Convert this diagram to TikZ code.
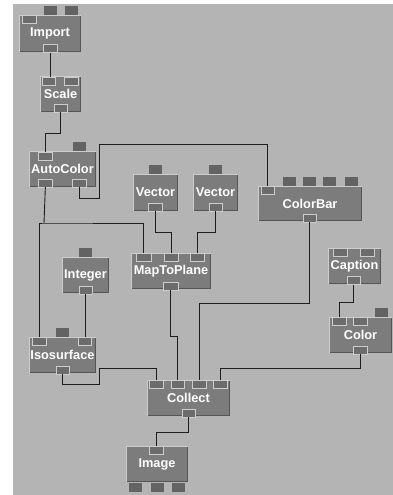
\documentclass[tikz,border=0pt]{standalone}
\usepackage{fontspec}
\setmainfont{Liberation Sans}
\usepackage{xcolor}
\definecolor{canvas}{RGB}{180,180,180}
\definecolor{modgray}{RGB}{124,124,124}
\definecolor{portgray}{RGB}{108,108,108}
\definecolor{hilite}{RGB}{205,205,205}
\definecolor{edgedark}{RGB}{85,85,85}
\definecolor{wiregray}{RGB}{30,30,30}
\usepackage{tikz}
\usetikzlibrary{calc,positioning}

\tikzset{
  module/.style={rectangle, fill=modgray, inner sep=0pt, text=white,
    font=\fontsize{12.8}{14}\selectfont\bfseries},
  inport/.style={rectangle, fill=portgray, draw=hilite, line width=0.7pt,
    inner sep=0pt, anchor=north west, minimum width=14pt, minimum height=8pt},
  tab/.style={rectangle, fill=portgray!92!black, inner sep=0pt, anchor=north west,
    minimum width=13pt, minimum height=9pt},
  wire/.style={wiregray, line width=0.9pt}
}

\begin{document}
\begin{tikzpicture}[x=1pt, y=-1pt]
    % Canvas
    \useasboundingbox (0,0) rectangle (393,495);
    \fill[canvas] (13,4) rectangle (393,495);

    % Modules
    \node[module, minimum width=62pt, minimum height=37pt] (import) at (50,33.5) {Import};
    \node[module, minimum width=41pt, minimum height=36pt] (scale) at (60.5,94) {Scale};
    \node[module, minimum width=67pt, minimum height=36pt] (autocolor) at (62.5,169) {AutoColor};
    \node[module, minimum width=45pt, minimum height=37pt] (vector1) at (155.5,192.5) {Vector};
    \node[module, minimum width=45pt, minimum height=37pt] (vector2) at (215.5,192.5) {Vector};
    \node[module, minimum width=104pt, minimum height=35pt] (colorbar) at (310,203.5) {ColorBar};
    \node[module, minimum width=80pt, minimum height=36pt] (maptoplane) at (171,271) {MapToPlane};
    \node[module, minimum width=47pt, minimum height=36pt] (integer) at (85.5,275) {Integer};
    \node[module, minimum width=53pt, minimum height=36pt] (caption) at (354.5,266) {Caption};
    \node[module, minimum width=63pt, minimum height=36pt] (color) at (360.5,335) {Color};
    \node[module, minimum width=67pt, minimum height=36pt] (isosurface) at (62.5,355) {Isosurface};
    \node[module, minimum width=83pt, minimum height=36pt] (collect) at (188.5,398) {Collect};
    \node[module, minimum width=62pt, minimum height=36pt] (image) at (157,464) {Image};

    % Bevel edges of the modules
    \foreach \m in {import,scale,autocolor,vector1,vector2,colorbar,maptoplane,integer,caption,color,isosurface,collect,image} {
        \draw[edgedark, line width=1pt] ([shift={(0.5,-0.5)}]\m.south west) -| ([shift={(-0.5,0.5)}]\m.north east);
        \draw[hilite, line width=1pt] ([shift={(0.5,-0.5)}]\m.south west) |- ([shift={(-0.5,0.5)}]\m.north east);
    }

    % Unused tabs
    \node[tab] (import-t1) at (44,6) {};
    \node[tab] (import-t2) at (65,6) {};
    \node[tab] (autocolor-t) at (73,142) {};
    \node[tab] (vector1-t) at (149,165) {};
    \node[tab] (vector2-t) at (209,165) {};
    \foreach \x [count=\i] in {283,303,323,345}
        \node[tab] (colorbar-t\i) at (\x,177) {};
    \node[tab] (integer-t) at (79,248) {};
    \node[tab] (color-t) at (375,308) {};
    \node[tab] (isosurface-t) at (56,328) {};
    \foreach \x [count=\i] in {129,151,172}
        \node[tab] (image-t\i) at (\x,482.5) {};

    % Ports
    \node[inport] (import-i) at (22,15.5) {};
    \node[inport] (import-o) at (43,44) {};
    \node[inport, minimum width=13pt] (scale-i1) at (41.5,76.5) {};
    \node[inport] (scale-i2) at (64,76.5) {};
    \node[inport, minimum width=13pt] (scale-o) at (54,103.5) {};
    \node[inport] (autocolor-i) at (38,151.5) {};
    \node[inport] (autocolor-o1) at (38,178.5) {};
    \node[inport] (autocolor-o2) at (72,178.5) {};
    \node[inport] (vector1-o) at (148,202.5) {};
    \node[inport, minimum width=13pt] (vector2-o) at (209,202.5) {};
    \node[inport, minimum width=13pt] (colorbar-i) at (261,186) {};
    \node[inport, minimum width=13pt] (colorbar-o) at (303,213.5) {};
    \node[inport, minimum width=15pt] (maptoplane-i1) at (136,253) {};
    \node[inport] (maptoplane-i2) at (164,253) {};
    \node[inport] (maptoplane-i3) at (190,253) {};
    \node[inport, minimum width=15pt] (maptoplane-o) at (163,281.5) {};
    \node[inport, minimum width=13pt] (integer-o) at (79,285.5) {};
    \node[inport] (caption-i1) at (333,248) {};
    \node[inport] (caption-i2) at (360,248) {};
    \node[inport, minimum width=13pt] (caption-o) at (347,276) {};
    \node[inport] (color-i1) at (332,317) {};
    \node[inport] (color-i2) at (353,317) {};
    \node[inport] (color-o) at (353,345.5) {};
    \node[inport] (isosurface-i1) at (32,337) {};
    \node[inport, minimum width=13pt] (isosurface-i2) at (78,337) {};
    \node[inport, minimum width=13pt] (isosurface-o) at (56,365.5) {};
    \node[inport] (collect-i1) at (149,380) {};
    \node[inport, minimum width=13pt] (collect-i2) at (171,380) {};
    \node[inport] (collect-i3) at (192,380) {};
    \node[inport] (collect-i4) at (213,380) {};
    \node[inport, minimum width=13pt] (collect-o) at (182,408.5) {};
    \node[inport] (image-i) at (149,446) {};

    % Wires
    \coordinate (split) at (44,223);
    \draw[wire] (import-o.south) -- (import-o.south |- scale-i1.north);
    \draw[wire] (scale-o.south) -- ++(0,21) -| (autocolor-i.north);
    \draw[wire] (autocolor-o2.south) |- (99,198) -- (99,144) -| (colorbar-i.north);
    \draw[wire] (autocolor-o1.south) -- (split);
    \draw[wire] (isosurface-i1.north) |- (split) -| (maptoplane-i1.north);
    \draw[wire] (vector1-o.south) -- ++(0,21) -| (maptoplane-i2.north);
    \draw[wire] (vector2-o.south) -- ++(0,21) -| (maptoplane-i3.north);
    \draw[wire] (integer-o.south) -- (integer-o.south |- isosurface-i2.north);
    \draw[wire] (isosurface-o.south) |- (99,384) -- (99,368) -| (collect-i1.north);
    \draw[wire] (maptoplane-o.south) -- ++(0,46) -| (collect-i2.north);
    \draw[wire] (colorbar-o.south) -- ++(0,81) -| (collect-i3.north);
    \draw[wire] (caption-o.south) -- ++(0,18) -| (color-i1.north);
    \draw[wire] (color-o.south) -- ++(0,14) -| (collect-i4.north);
    \draw[wire] (collect-o.south) -- ++(0,15) -| (image-i.north);
\end{tikzpicture}
\end{document}
